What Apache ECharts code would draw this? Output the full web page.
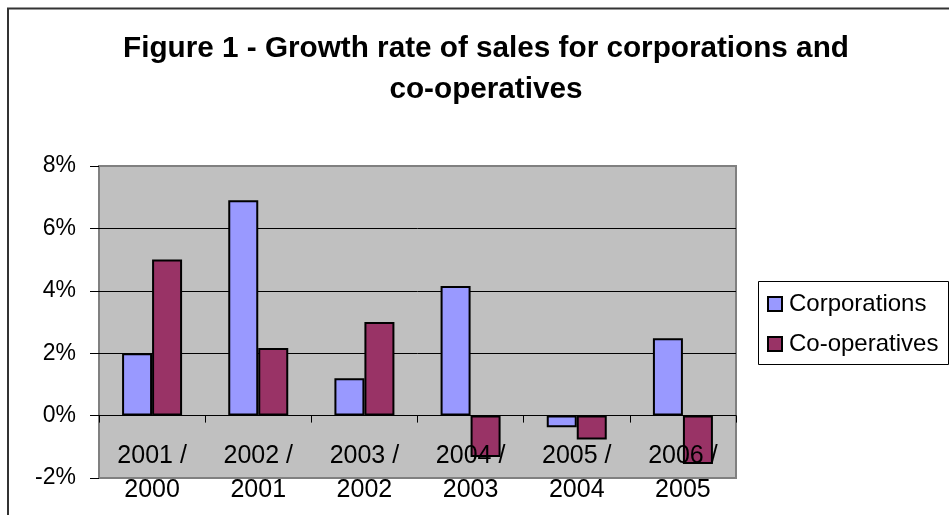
<!DOCTYPE html>
<html>
<head>
<meta charset="utf-8">
<script src="https://cdn.jsdelivr.net/npm/echarts@6/dist/echarts.min.js"></script>
<style>
html,body{margin:0;padding:0;background:#fff;}
#chart{width:949px;height:515px;}
</style>
</head>
<body>
<div id="chart"></div>
<script>
var titleText = "Figure 1 - Growth rate of sales for corporations and\nco-operatives";
var categories = ["2001 /\n2000", "2002 /\n2001", "2003 /\n2002", "2004 /\n2003", "2005 /\n2004", "2006 /\n2005"];
var seriesNames = ["Corporations", "Co-operatives"];
var corporations = [2.0, 6.9, 1.2, 4.15, -0.37, 2.48];
var cooperatives = [5.0, 2.17, 3.0, -1.33, -0.77, -1.55];
var yMin = -2, yMax = 8, yStep = 2;

var chart = echarts.init(document.getElementById('chart'), null, {renderer: 'canvas'});
var font = 'Liberation Sans, Arial, sans-serif';
chart.setOption({
  animation: false,
  backgroundColor: '#ffffff',
  title: {
    text: titleText,
    left: 481,
    textAlign: 'center',
    top: 23,
    textStyle: {fontFamily: font, fontSize: 29.7, fontWeight: 'bold', color: '#000', lineHeight: 41}
  },
  graphic: [
    {type: 'rect', shape: {x: 8, y: 8.5, width: 960, height: 530}, style: {fill: 'none', stroke: '#333', lineWidth: 2}, z: 100},
    {type: 'rect', shape: {x: 758.5, y: 281.5, width: 190, height: 83}, style: {fill: '#fff', stroke: '#000', lineWidth: 1}, z: 1}
  ],
  legend: {
    left: 757,
    top: 282,
    orient: 'vertical',
    padding: [8, 10, 6, 10],
    itemWidth: 14,
    itemHeight: 14,
    itemGap: 12,
    icon: 'rect',
    z: 5,
    textStyle: {fontFamily: font, fontSize: 24, color: '#000', lineHeight: 28, padding: [0, 0, 0, 2]},
    data: seriesNames
  },
  grid: {
    left: 99, top: 166, right: 213, bottom: 37,
    outerBoundsMode: 'none',
    containLabel: false,
    show: true, backgroundColor: '#c0c0c0', borderColor: '#808080', borderWidth: 2
  },
  xAxis: [
    {
      type: 'category',
      data: categories,
      axisLine: {show: true, onZero: true, lineStyle: {color: '#000', width: 1}},
      axisTick: {show: true, length: 7, lineStyle: {color: '#000'}},
      axisLabel: {show: false},
      splitLine: {show: false}
    },
    {
      type: 'category',
      data: categories,
      position: 'bottom',
      z: 10,
      axisLine: {show: false, onZero: false},
      axisTick: {show: false},
      axisLabel: {fontFamily: font, fontSize: 25, color: '#000', lineHeight: 34, margin: -39, interval: 0},
      splitLine: {show: false}
    }
  ],
  yAxis: {
    type: 'value',
    min: yMin, max: yMax, interval: yStep,
    axisLine: {show: false},
    axisTick: {show: true, length: 9, lineStyle: {color: '#000'}},
    axisLabel: {fontFamily: font, fontSize: 23, color: '#000', margin: 23, formatter: '{value}%'},
    splitLine: {show: true, lineStyle: {color: ['#808080', '#000', '#000', '#000', '#000', '#808080'], width: 1}}
  },
  series: [
    {
      name: seriesNames[0], type: 'bar', data: corporations,
      barWidth: 30, barGap: '0%', xAxisIndex: 0,
      itemStyle: {color: '#9999ff', borderColor: '#000', borderWidth: 2}
    },
    {
      name: seriesNames[1], type: 'bar', data: cooperatives,
      barWidth: 30, barGap: '0%', xAxisIndex: 0,
      itemStyle: {color: '#993366', borderColor: '#000', borderWidth: 2}
    }
  ]
});
</script>
</body>
</html>
